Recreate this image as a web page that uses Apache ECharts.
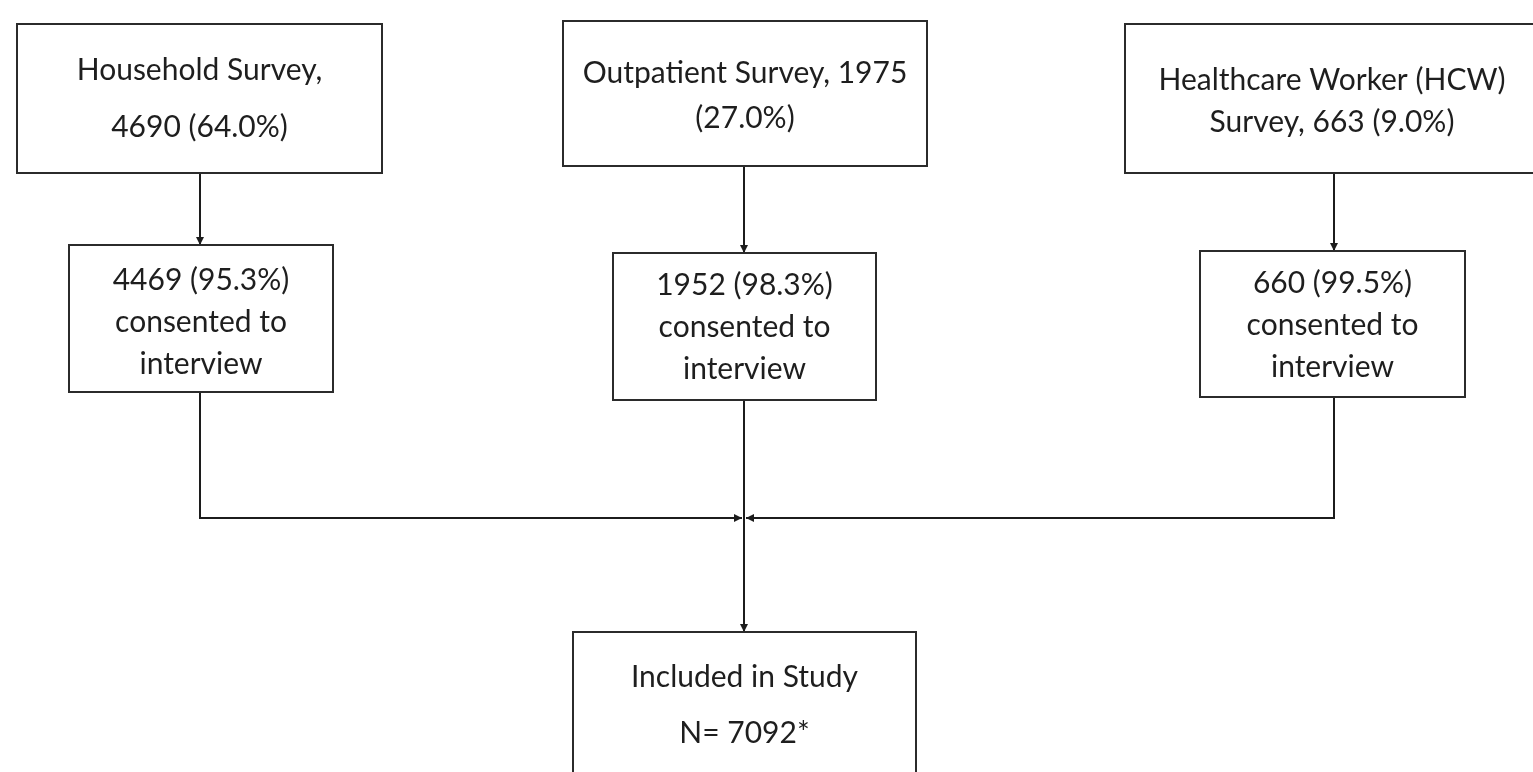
<!DOCTYPE html>
<html>
<head>
<meta charset="utf-8">
<script src="https://cdn.jsdelivr.net/npm/echarts@6/dist/echarts.min.js"></script>
<style>
html,body{margin:0;padding:0;background:#fff;}
#chart{width:1533px;height:772px;}
</style>
</head>
<body>
<div id="chart"></div>
<script>
// ---- content ----
var nodeNames = ['household', 'outpatient', 'hcw', 'consentHH', 'consentOP', 'consentHCW', 'included'];
var nodeLabels = [
  'Household Survey,\n4690 (64.0%)',
  'Outpatient Survey, 1975\n(27.0%)',
  'Healthcare Worker (HCW)\nSurvey, 663 (9.0%)',
  '4469 (95.3%)\nconsented to\ninterview',
  '1952 (98.3%)\nconsented to\ninterview',
  '660 (99.5%)\nconsented to\ninterview',
  'Included in Study\nN= 7092*'
];
// ---- layout (diagram units = pixels of a 1533 x 772 canvas) ----
var boxLeft   = [17, 563, 1125, 69, 613, 1200, 573];
var boxTop    = [24, 21, 24, 245, 253, 251, 632];
var boxRight  = [382, 927, 1540, 333, 876, 1465, 916];
var boxBottom = [173, 166, 173, 392, 400, 397, 790];
var textLineHeight = [57, 45, 42, 42, 42, 42, 56];
var textCenterY = [99, 96, 101, 322, 327, 325, 705];
// connectors (each ends with an arrowhead)
var edgeFrom = ['household', 'outpatient', 'hcw', 'consentHH', 'consentHCW', 'consentOP'];
var edgeTo   = ['consentHH', 'consentOP', 'consentHCW', 'included', 'included', 'included'];
var edgePaths = [
  [[200, 173], [200, 245]],
  [[744, 166], [744, 253]],
  [[1334, 173], [1334, 251]],
  [[200, 392], [200, 518], [742, 518]],
  [[1334, 397], [1334, 518], [746, 518]],
  [[744, 400], [744, 632]]
];

var boxData = nodeNames.map(function (n, i) {
  return {name: n, value: [boxLeft[i], boxTop[i], boxRight[i], boxBottom[i], textCenterY[i], i]};
});
var edgeData = edgeFrom.map(function (f, i) {
  var last = edgePaths[i][edgePaths[i].length - 1];
  return {name: f + '->' + edgeTo[i], value: [last[0], last[1], i]};
});

var chart = echarts.init(document.getElementById('chart'), null, {renderer: 'canvas'});
var FONT = 'Lato';
var LINE = '#1c1c1c';
chart.setOption({
  animation: false,
  backgroundColor: '#ffffff',
  grid: {left: 0, right: 0, top: 0, bottom: 0},
  xAxis: {type: 'value', min: 0, max: 1533, show: false},
  yAxis: {type: 'value', min: 0, max: 772, inverse: true, show: false},
  series: [
    {
      type: 'custom',
      coordinateSystem: 'cartesian2d',
      data: edgeData,
      clip: false,
      z: 1,
      renderItem: function (params, api) {
        var i = api.value(2);
        var pts = edgePaths[i].map(function (p) { return api.coord(p); });
        var a = pts[pts.length - 2], b = pts[pts.length - 1];
        var dx = b[0] - a[0], dy = b[1] - a[1];
        var len = Math.sqrt(dx * dx + dy * dy) || 1;
        var ux = dx / len, uy = dy / len;
        var L = 8, W = 4;
        var bx = b[0] - ux * L, by = b[1] - uy * L;
        return {
          type: 'group',
          children: [
            {
              type: 'polyline',
              shape: {points: pts},
              style: {stroke: LINE, lineWidth: 2, fill: null}
            },
            {
              type: 'polygon',
              shape: {points: [b, [bx - uy * W, by + ux * W], [bx + uy * W, by - ux * W]]},
              style: {fill: LINE, stroke: null}
            }
          ]
        };
      }
    },
    {
      type: 'custom',
      coordinateSystem: 'cartesian2d',
      data: boxData,
      clip: false,
      z: 2,
      renderItem: function (params, api) {
        var i = api.value(5);
        var p1 = api.coord([api.value(0), api.value(1)]);
        var p2 = api.coord([api.value(2), api.value(3)]);
        var cx = (p1[0] + p2[0]) / 2;
        if (i === 2) { cx = api.coord([1332, 0])[0]; }
        var ty = api.coord([0, api.value(4)])[1];
        return {
          type: 'group',
          children: [
            {
              type: 'rect',
              shape: {x: p1[0], y: p1[1], width: p2[0] - p1[0], height: p2[1] - p1[1]},
              style: {fill: '#ffffff', stroke: '#2b2b2b', lineWidth: 2}
            },
            {
              type: 'text',
              x: cx, y: ty,
              style: {
                text: nodeLabels[i],
                fill: '#1e1e1e',
                font: '30px ' + FONT,
                align: 'center',
                verticalAlign: 'middle',
                lineHeight: textLineHeight[i]
              }
            }
          ]
        };
      }
    }
  ]
});
</script>
</body>
</html>
